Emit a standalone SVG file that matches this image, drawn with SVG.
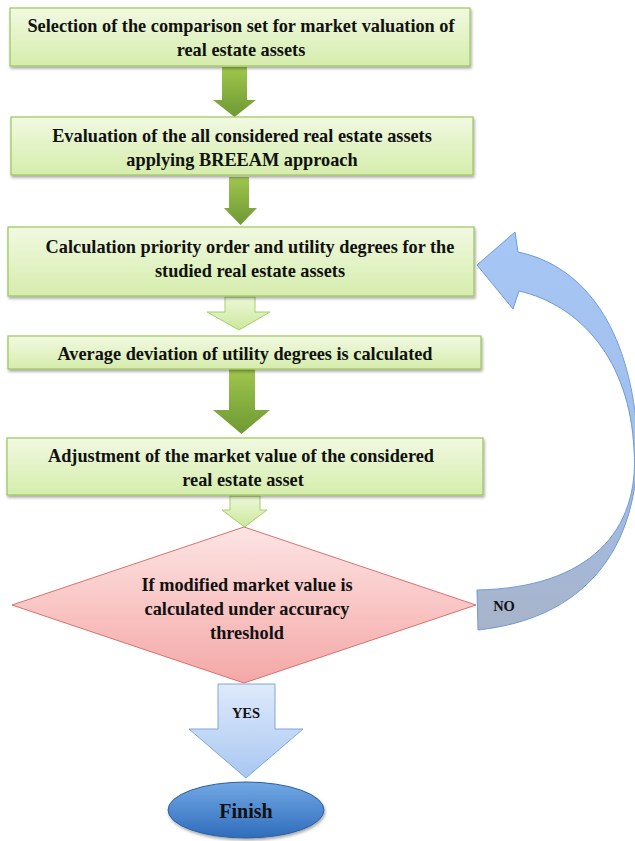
<svg xmlns="http://www.w3.org/2000/svg" width="635" height="841" viewBox="0 0 635 841">
<defs>
<linearGradient id="gBox" x1="0" y1="0" x2="0" y2="1"><stop offset="0" stop-color="#f1f9e1"/><stop offset="1" stop-color="#d5edac"/></linearGradient>
<linearGradient id="gDark" x1="0" y1="0" x2="0" y2="1"><stop offset="0" stop-color="#a0c64c"/><stop offset="1" stop-color="#6e9934"/></linearGradient>
<linearGradient id="gLight" x1="0" y1="0" x2="0" y2="1"><stop offset="0" stop-color="#eef8da"/><stop offset="1" stop-color="#cbe89a"/></linearGradient>
<linearGradient id="gDia" x1="0" y1="0" x2="0" y2="1"><stop offset="0" stop-color="#fde4e4"/><stop offset="1" stop-color="#f4a8a6"/></linearGradient>
<linearGradient id="gYes" x1="0" y1="0" x2="0" y2="1"><stop offset="0" stop-color="#dfeafb"/><stop offset="1" stop-color="#a9c7f2"/></linearGradient>
<linearGradient id="gFin" x1="0" y1="0" x2="0" y2="1"><stop offset="0" stop-color="#72a8e4"/><stop offset="1" stop-color="#2f6dbc"/></linearGradient>
<linearGradient id="gLoop" gradientUnits="userSpaceOnUse" x1="0" y1="230" x2="0" y2="632"><stop offset="0" stop-color="#a6c6f5"/><stop offset="0.55" stop-color="#a1bfeb"/><stop offset="1" stop-color="#a8b3c9"/></linearGradient>
<filter id="sh" x="-10%" y="-20%" width="120%" height="150%"><feDropShadow dx="1" dy="2" stdDeviation="1.5" flood-color="#000" flood-opacity="0.35"/></filter>
<style>
.box{fill:url(#gBox);stroke:#9cc55c;stroke-width:1.2;filter:url(#sh)}
.dark{fill:url(#gDark);stroke:none}
.light{fill:url(#gLight);stroke:#a6cf6b;stroke-width:1}
.t{font-family:"Liberation Serif","Times New Roman",serif;font-weight:bold;font-size:18.3px;fill:#111;text-anchor:middle}
.s{font-size:14.5px}
</style>
</defs>

<g id="connectors">
<path class="dark" d="M222,67 H247 V100 H256 L234.5,117 L213,100 H222 Z"/>
<path class="dark" d="M229,177 H249 V208 H257 L240.5,225 L224,208 H229 Z"/>
<path class="light" d="M225,297 H255 V312 H270 L239,330 L207,312 H225 Z"/>
<path class="dark" d="M229,369 H255 V410 H270 L241.5,434 L213,410 H229 Z"/>
<path class="light" d="M230,496 H260 V510 H267 L244.5,527 L222,510 H230 Z"/>
<path d="M218,684 H275 V729 H303 L246,778 L189,729 H218 Z" fill="url(#gYes)" stroke="#7ea6da" stroke-width="1"/>
<path d="M477,265 L515,232 L518,252 C580,265 625,320 636,420 C645,510 615,615 478,630 L477,590 C590,588 640,530 634,450 C630,360 580,305 519,291 L513,309 Z" fill="url(#gLoop)" stroke="#6f9bd6" stroke-width="1"/>
<text class="t s" x="246" y="718">YES</text>
<text class="t s" x="504" y="611">NO</text>
</g>

<g id="n1"><rect class="box" x="10" y="8" width="460" height="58"/>
<text class="t" x="241" y="32">Selection of the comparison set for market valuation of</text>
<text class="t" x="241" y="56">real estate assets</text></g>

<g id="n2"><rect class="box" x="11" y="117" width="462" height="58"/>
<text class="t" x="242" y="142">Evaluation of the all considered real estate assets</text>
<text class="t" x="242" y="166">applying BREEAM approach</text></g>

<g id="n3"><rect class="box" x="8" y="227" width="466" height="69"/>
<text class="t" x="250" y="253">Calculation priority order and utility degrees for the</text>
<text class="t" x="250" y="277">studied real estate assets</text></g>

<g id="n4"><rect class="box" x="8" y="336" width="473" height="33"/>
<text class="t" x="245" y="360">Average deviation of utility degrees is calculated</text></g>

<g id="n5"><rect class="box" x="7" y="438" width="476" height="57"/>
<text class="t" x="241" y="462">Adjustment of the market value of the considered</text>
<text class="t" x="243" y="486">real estate asset</text></g>

<g id="n6"><path d="M244,527 L476,605 L244,683 L12,605 Z" fill="url(#gDia)" stroke="#d9716f" stroke-width="1"/>
<text class="t" x="247" y="591">If modified market value is</text>
<text class="t" x="247" y="615">calculated under accuracy</text>
<text class="t" x="247" y="639">threshold</text></g>

<g id="n7"><ellipse cx="246" cy="810" rx="78" ry="28" fill="url(#gFin)" stroke="#2c5f9e" stroke-width="1" filter="url(#sh)"/>
<text class="t" x="246" y="818" style="font-size:20px">Finish</text></g>
</svg>
